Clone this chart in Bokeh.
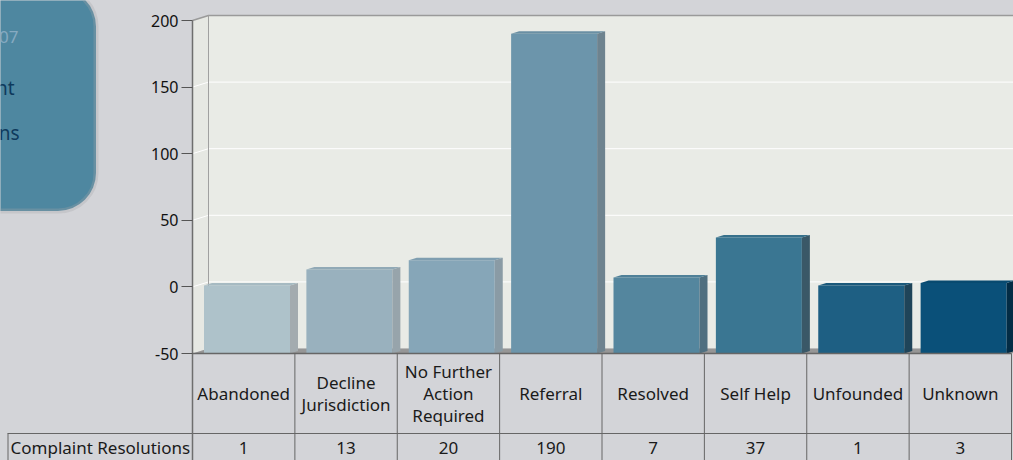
from bokeh.plotting import figure
from bokeh.models import LinearAxis, FixedTicker, BoxAnnotation
from bokeh.core.properties import value
from bokeh.embed import file_html
from bokeh.resources import INLINE

# ---------------- data ----------------
categories = ["Abandoned", "Decline\nJurisdiction", "No Further\nAction\nRequired",
              "Referral", "Resolved", "Self Help", "Unfounded", "Unknown"]
resolutions = [1, 13, 20, 190, 7, 37, 1, 3]
series_name = "Complaint Resolutions"
y_ticks = [-50, 0, 50, 100, 150, 200]
box_lines = ["2006-2007", "Complaint", "Resolutions"]

# ---------------- styles ----------------
FRONT = ["#aec2ca", "#99b1be", "#86a6b8", "#6c95ab", "#54869e", "#3a7692", "#1e5f83", "#0a5079"]
SIDE = ["#a3abaf", "#97a4ab", "#8a9ba5", "#6e838f", "#4f6f80", "#3a5867", "#1f4459", "#032c45"]
TOP = ["#a6bac2", "#91a9b6", "#7f9eb0", "#6a8fa3", "#4f8098", "#36708b", "#1b597b", "#084a70"]
FONT = value("Noto Sans")
BG = "#d3d4d8"

W, H = 1013, 460
UNIT_X = 102.375          # px per category
UNIT_Y = 1.332            # px per value unit
AXIS_PAGE_X = 192
ymin, ymax = y_ticks[0], y_ticks[-1]
TOP_PAGE_Y = 20


def px(page_x):
    return (page_x - AXIS_PAGE_X) / UNIT_X


def py(page_y):
    return ymax - (page_y - TOP_PAGE_Y) / UNIT_Y


n = len(categories)
x0, x1 = px(0), px(W)
y0, y1 = py(H), py(0)

p = figure(width=W, height=H, x_range=(x0, x1), y_range=(y0, y1),
           output_backend="svg", toolbar_location=None,
           x_axis_location=None, y_axis_location=None,
           background_fill_color=BG, border_fill_color=BG,
           min_border=0, min_border_left=0, min_border_right=0,
           min_border_top=0, min_border_bottom=0)
p.outline_line_color = None
p.grid.visible = False

try:
    from bokeh.models import GlobalInlineStyleSheet
    p.stylesheets = [GlobalInlineStyleSheet(css="body { background: %s; }" % BG)]
except Exception:
    pass

# 3D depth
DX, DY = 16 / UNIT_X, 5 / UNIT_Y
BDX, BDY = 8 / UNIT_X, 2.5 / UNIT_Y

# left rounded box
box = BoxAnnotation(left=px(-60), right=px(95.5), top=py(-12), bottom=py(210.5),
                    fill_color="#4e87a0", fill_alpha=1.0, line_color="#a6a6a8",
                    line_width=5, border_radius=38, level="underlay")
p.add_layout(box)
p.text(x=[px(18)], y=[py(36)], text=[box_lines[0]], text_font=FONT,
       text_font_size="17px", text_color="#86aac1", text_align="right", text_baseline="middle")
p.text(x=[px(14), px(19)], y=[py(87), py(132)], text=box_lines[1:], text_font=FONT,
       text_font_size="19px", text_color="#0e3a5d", text_align="right", text_baseline="middle")

# walls
p.quad(left=[DX], right=[n + DX], bottom=[ymin + DY], top=[ymax + DY],
       fill_color="#e9ebe6", line_color=None)
p.patch(x=[0, DX, DX, 0], y=[ymin, ymin + DY, ymax + DY, ymax],
        fill_color="#e6e8e3", line_color=None)
p.patch(x=[0, n, n + DX, DX], y=[ymin, ymin, ymin + DY, ymin + DY],
        fill_color="#969696", line_color=None)

grid_vals = y_ticks[1:-1]
p.segment(x0=[DX] * len(grid_vals), y0=[v + DY for v in grid_vals],
          x1=[n + DX] * len(grid_vals), y1=[v + DY for v in grid_vals],
          line_color="white", line_width=1)
p.segment(x0=[0] * len(grid_vals), y0=grid_vals,
          x1=[DX] * len(grid_vals), y1=[v + DY for v in grid_vals],
          line_color="white", line_width=1)
p.line(x=[0, DX, n + DX], y=[ymax, ymax + DY, ymax + DY], line_color="#9a9a9a", line_width=1.5)
p.line(x=[DX, DX], y=[ymin + DY, ymax + DY], line_color="#a0a0a0", line_width=1)

# bars
lefts = [i + 11.5 / UNIT_X for i in range(n)]
rights = [i + 97.5 / UNIT_X for i in range(n)]
p.quad(left=lefts, right=rights, bottom=[ymin] * n, top=resolutions,
       fill_color=FRONT, line_color=None)
p.patches(xs=[[r, r + BDX, r + BDX, r] for r in rights],
          ys=[[ymin, ymin + BDY, v + BDY, v] for v in resolutions],
          fill_color=SIDE, line_color=None)
p.patches(xs=[[l, l + BDX, r + BDX, r] for l, r in zip(lefts, rights)],
          ys=[[v, v + BDY, v + BDY, v] for v in resolutions],
          fill_color=TOP, line_color=None)

# table
HB = ymin - 80 / UNIT_Y
row_mid = HB - 14 / UNIT_Y
p.line(x=[0, n], y=[ymin, ymin], line_color="#666666", line_width=1.5)
p.line(x=[px(7), n], y=[HB, HB], line_color="#666666", line_width=1)
p.segment(x0=list(range(1, n + 1)), y0=[ymin] * n, x1=list(range(1, n + 1)), y1=[y0] * n,
          line_color="#666666", line_width=1)
p.segment(x0=[px(7.5)], y0=[HB], x1=[px(7.5)], y1=[y0], line_color="#666666", line_width=1)
p.line(x=[0, 0], y=[y0, ymax], line_color="#6e6e6e", line_width=1.5)

p.text(x=[i + 0.5 for i in range(n)], y=[(ymin + HB) / 2] * n, text=categories,
       text_font=FONT, text_font_size="17px", text_color="#1a1a1a",
       text_align="center", text_baseline="middle", text_line_height=0.95)
p.text(x=[i + 0.5 for i in range(n)], y=[row_mid] * n, text=[str(v) for v in resolutions],
       text_font=FONT, text_font_size="17px", text_color="#1a1a1a",
       text_align="center", text_baseline="middle")
p.text(x=[px(10)], y=[row_mid], text=[series_name], text_font=FONT, text_font_size="17px",
       text_color="#1a1a1a", text_align="left", text_baseline="middle")

# y axis
yaxis = LinearAxis(fixed_location=0, ticker=FixedTicker(ticks=y_ticks),
                   axis_line_color=None, major_tick_in=0, major_tick_out=11,
                   minor_tick_in=0, minor_tick_out=0,
                   major_tick_line_color="#555555", major_tick_line_width=1,
                   major_label_text_font="Noto Sans", major_label_text_font_size="16px",
                   major_label_text_color="#111111", major_label_standoff=3,
                   major_label_overrides={t: str(t) for t in y_ticks})
p.add_layout(yaxis, "left")

open("out.html", "w").write(file_html(p, INLINE))
